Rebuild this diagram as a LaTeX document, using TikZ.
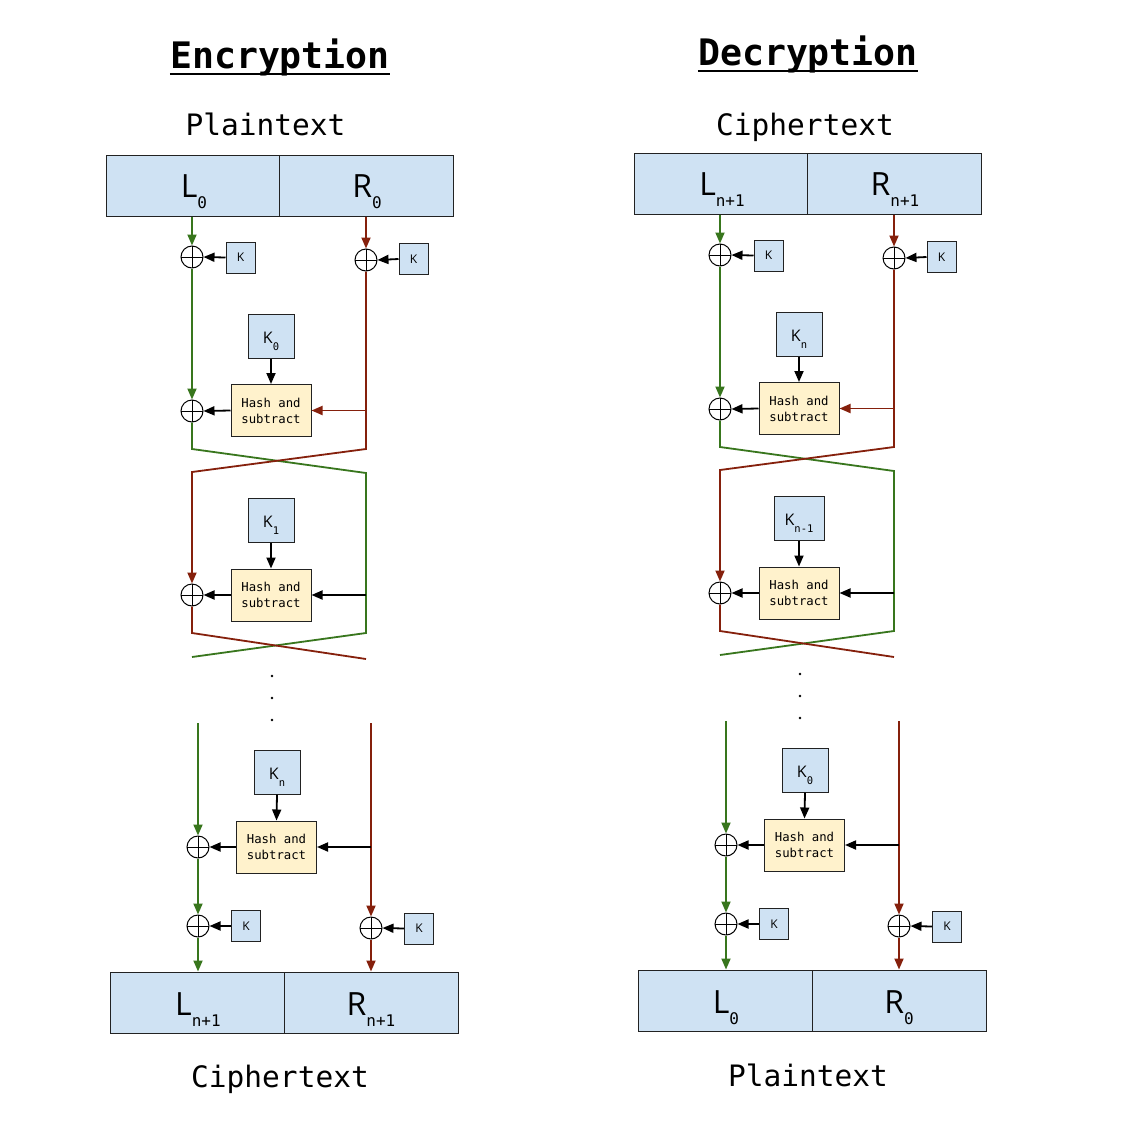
\documentclass[tikz,border=0pt]{standalone}
\usepackage{fontspec}
\usetikzlibrary{arrows.meta}
\newfontfamily\mono{DejaVu Sans Mono}
\newfontfamily\osans{Open Sans}
\definecolor{cellblue}{HTML}{CFE2F3}
\definecolor{hashy}{HTML}{FFF2CC}
\definecolor{gr}{HTML}{38761D}
\definecolor{rd}{HTML}{85200C}
\definecolor{edge}{HTML}{222222}
\newcommand\LRlab[2]{{\osans\fontsize{32}{32}\selectfont #1}\raisebox{-11pt}{\mono\fontsize{16}{16}\selectfont #2}}
\newcommand\Klab[1]{{\osans\fontsize{16}{16}\selectfont K}\raisebox{-7pt}{\mono\fontsize{10.5}{10.5}\selectfont #1}}
\tikzset{
  cell/.style={draw=edge, line width=1pt, fill=cellblue, inner sep=0pt},
  kbox/.style={draw=edge, line width=1pt, fill=cellblue, inner sep=0pt, minimum width=29, minimum height=31, font=\osans\fontsize{12}{12}\selectfont},
  kbig/.style={draw=edge, line width=1pt, fill=cellblue, inner sep=0pt, minimum width=46, minimum height=44},
  hashbox/.style={draw=edge, line width=1pt, fill=hashy, inner sep=0pt, minimum width=80, minimum height=52, align=center, font=\mono\fontsize{12.3}{16}\selectfont},
  lab/.style={inner sep=0pt, anchor=base},
  xor/.style={circle, draw=black, line width=1pt, minimum size=22, inner sep=0pt,
    path picture={\draw[line width=0.8pt] (path picture bounding box.north) -- (path picture bounding box.south)
      (path picture bounding box.west) -- (path picture bounding box.east);}},
  dotn/.style={circle, fill=black, inner sep=0pt, minimum size=2.8},
  tip/.style={-{Triangle[length=11pt,width=9pt]}},
  gline/.style={draw=gr, line width=1.8pt},
  rline/.style={draw=rd, line width=1.8pt},
  bline/.style={draw=black, line width=1.8pt},
  ttl/.style={inner sep=0pt, anchor=base, font=\mono\bfseries\fontsize{36.5}{36.5}\selectfont},
  sub/.style={inner sep=0pt, anchor=base, font=\mono\fontsize{29.5}{29.5}\selectfont},
}
% #1 prefix, #2 top subscript, #3 bottom subscript, #4 #5 #6 key subscripts, #7 width of second key box
\newcommand\FCol[7]{%
  % top block
  \node[cell, minimum width=173, minimum height=61] (#1TL) at (192.5,185.5) {};
  \node[cell, minimum width=174, minimum height=61] (#1TR) at (366,185.5) {};
  \node[lab] (#1TLt) at (194,197) {\LRlab{L}{#2}};
  \node[lab] (#1TRt) at (367,197) {\LRlab{R}{#2}};
  % whitening
  \node[xor] (#1x1) at (192,257) {};
  \node[kbox] (#1kx1) at (240.5,257.5) {K};
  \node[xor] (#1y1) at (366,260) {};
  \node[kbox] (#1ky1) at (413.5,259) {K};
  % round 1
  \node[xor] (#1x2) at (192,411) {};
  \node[kbig] (#1k0) at (271,336) {};
  \node[lab] (#1k0t) at (271,343) {\Klab{#4}};
  \node[hashbox] (#1h1) at (271,410.5) {Hash and\\subtract};
  % round 2
  \node[xor] (#1x3) at (192,595) {};
  \node[kbig, minimum width=#7] (#1k1) at (271,520) {};
  \node[lab] (#1k1t) at (271,527) {\Klab{#5}};
  \node[hashbox] (#1h2) at (271,595) {Hash and\\subtract};
  % dots
  \node[dotn] (#1d1) at (272,676) {};
  \node[dotn] (#1d2) at (272,698) {};
  \node[dotn] (#1d3) at (272,720) {};
  % last round
  \node[xor] (#1x4) at (198,847) {};
  \node[kbig] (#1kn) at (277,772) {};
  \node[lab] (#1knt) at (277,779) {\Klab{#6}};
  \node[hashbox] (#1h3) at (276.5,847) {Hash and\\subtract};
  \node[xor] (#1x5) at (198,926) {};
  \node[kbox] (#1kx5) at (246,926) {K};
  \node[xor] (#1y5) at (371,928) {};
  \node[kbox] (#1ky5) at (419,928.5) {K};
  % bottom block
  \node[cell, minimum width=174, minimum height=61] (#1BL) at (197,1002.5) {};
  \node[cell, minimum width=174, minimum height=61] (#1BR) at (371,1002.5) {};
  \node[lab] (#1BLt) at (198,1015) {\LRlab{L}{#3}};
  \node[lab] (#1BRt) at (371,1015) {\LRlab{R}{#3}};
  % coordinates
  \coordinate (#1ga) at (192,449);
  \coordinate (#1gb) at (366,473);
  \coordinate (#1gc) at (366,633);
  \coordinate (#1gd) at (192,657);
  \coordinate (#1ra) at (366,449);
  \coordinate (#1rb) at (192,472);
  \coordinate (#1rc) at (192,633);
  \coordinate (#1rd) at (366,659);
  \coordinate (#1gs) at (198,723);
  \coordinate (#1rs) at (371,723);
  % connectors, top
  \draw[gline,tip] (#1x1 |- #1TL.south) -- (#1x1.north);
  \draw[rline,tip] (#1y1 |- #1TR.south) -- (#1y1.north);
  \draw[bline,tip] (#1kx1.west) -- (#1x1.east);
  \draw[bline,tip] (#1ky1.west) -- (#1y1.east);
  % round 1
  \draw[gline,tip] (#1x1.south) -- (#1x2.north);
  \draw[bline,tip] (#1k0.south) -- (#1h1.north);
  \draw[bline,tip] (#1h1.west) -- (#1x2.east);
  \draw[rline,tip] (#1y1 |- #1h1) -- (#1h1.east);
  \draw[gline] (#1x2.south) -- (#1ga) -- (#1gb) -- (#1gc) -- (#1gd);
  \draw[rline,tip] (#1y1.south) -- (#1ra) -- (#1rb) -- (#1x3.north);
  % round 2
  \draw[bline,tip] (#1k1.south) -- (#1h2.north);
  \draw[bline,tip] (#1h2.west) -- (#1x3.east);
  \draw[bline,tip] (#1gb |- #1h2) -- (#1h2.east);
  \draw[rline] (#1x3.south) -- (#1rc) -- (#1rd);
  % last round
  \draw[gline,tip] (#1gs) -- (#1x4.north);
  \draw[gline,tip] (#1x4.south) -- (#1x5.north);
  \draw[gline,tip] (#1x5.south) -- (#1x5 |- #1BL.north);
  \draw[rline,tip] (#1rs) -- (#1y5.north);
  \draw[rline,tip] (#1y5.south) -- (#1y5 |- #1BR.north);
  \draw[bline,tip] (#1rs |- #1h3) -- (#1h3.east);
  \draw[bline,tip] (#1kn.south) -- (#1h3.north);
  \draw[bline,tip] (#1h3.west) -- (#1x4.east);
  \draw[bline,tip] (#1kx5.west) -- (#1x5.east);
  \draw[bline,tip] (#1ky5.west) -- (#1y5.east);
}
\begin{document}
\begin{tikzpicture}[x=1pt,y=-1pt]
  \fill[white] (0,0) rectangle (1121,1133);
  \useasboundingbox (0,0) rectangle (1121,1133);
  % titles
  \node[ttl] (encT) at (280,68) {Encryption};
  \draw[line width=2pt] ([yshift=-6pt]encT.base west) -- ([yshift=-6pt]encT.base east);
  \node[ttl] (decT) at (808,65) {Decryption};
  \draw[line width=2pt] ([yshift=-6pt]decT.base west) -- ([yshift=-6pt]decT.base east);
  \node[sub] (encTop) at (265.5,135) {Plaintext};
  \node[sub] (decTop) at (805,135) {Ciphertext};
  \node[sub] (encBot) at (280,1087) {Ciphertext};
  \node[sub] (decBot) at (808,1086) {Plaintext};
  % columns
  \FCol{e}{0}{n+1}{0}{1}{n}{46}
  \begin{scope}[shift={(528,-2)}]
    \FCol{d}{n+1}{0}{n}{n-1}{0}{50}
  \end{scope}
\end{tikzpicture}
\end{document}
